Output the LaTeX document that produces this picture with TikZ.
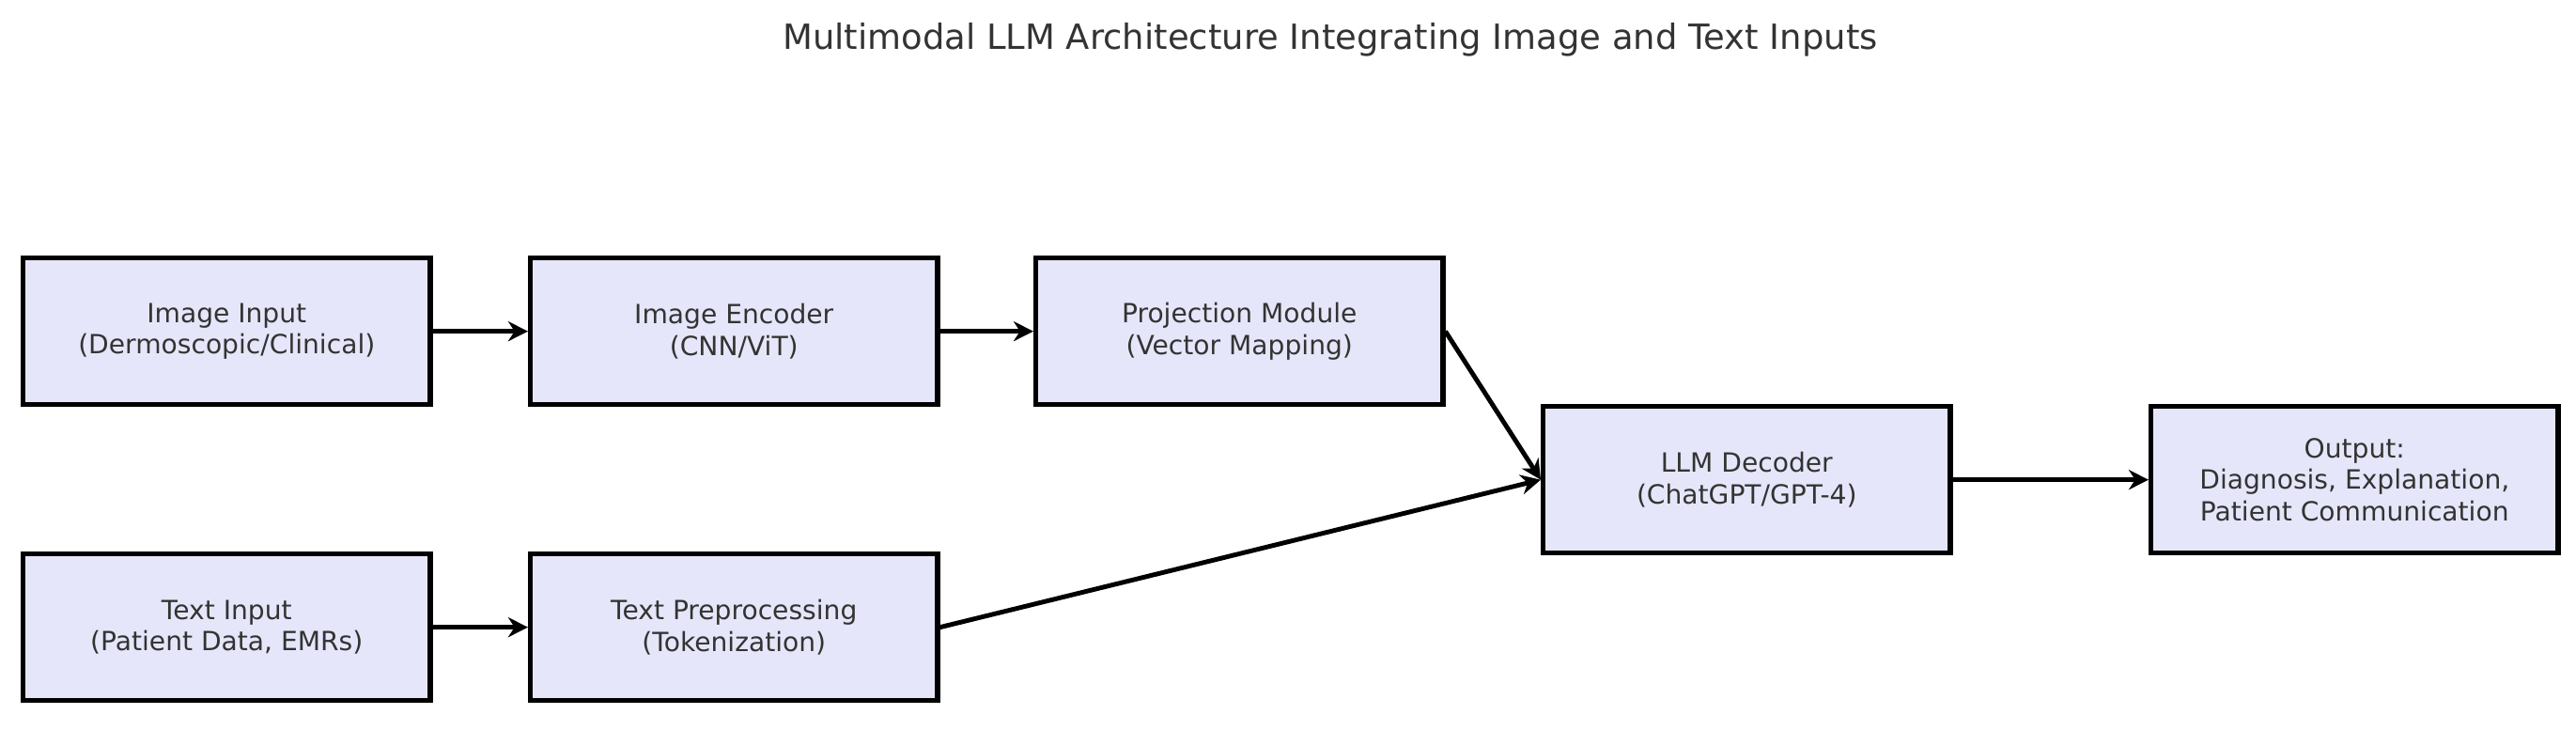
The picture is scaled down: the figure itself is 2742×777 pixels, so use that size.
\documentclass[tikz,border=0pt]{standalone}
\usepackage{fontspec}
\setmainfont{DejaVu Sans}
\usetikzlibrary{arrows.meta}
\definecolor{lav}{HTML}{E6E6FA}
\definecolor{txt}{HTML}{333333}
\begin{document}
\begin{tikzpicture}[x=0.01cm,y=-0.01cm,
  box/.style={draw=black,line width=1.5pt,fill=lav,minimum width=4.33cm,minimum height=1.56cm,
    align=center,text=txt,font=\fontsize{8}{9.6}\selectfont,anchor=north west,inner sep=0pt},
  arr/.style={-{Stealth[length=6pt,width=6pt]},line width=1.4pt}]
\useasboundingbox (0,0) rectangle (2742,777);
\node[text=txt,font=\fontsize{10.5}{12}\selectfont] (title) at (1416,42) {Multimodal LLM Architecture Integrating Image and Text Inputs};
\node[box] (ii) at (22,272) {Image Input\\(Dermoscopic/Clinical)};
\node[box] (ie) at (562,272) {Image Encoder\\(CNN/ViT)};
\node[box] (pm) at (1100,272) {Projection Module\\(Vector Mapping)};
\node[box] (ld) at (1640,430) {LLM Decoder\\(ChatGPT/GPT-4)};
\node[box] (out) at (2287,430) {Output:\\Diagnosis, Explanation,\\Patient Communication};
\node[box] (ti) at (22,587) {Text Input\\(Patient Data, EMRs)};
\node[box] (tp) at (562,587) {Text Preprocessing\\(Tokenization)};
\draw[arr] (ii.east) -- (ie.west);
\draw[arr] (ie.east) -- (pm.west);
\draw[arr] (pm.east) -- (ld.west);
\draw[arr] (ti.east) -- (tp.west);
\draw[arr] (tp.east) -- (ld.west);
\draw[arr] (ld.east) -- (out.west);
\end{tikzpicture}
\end{document}
